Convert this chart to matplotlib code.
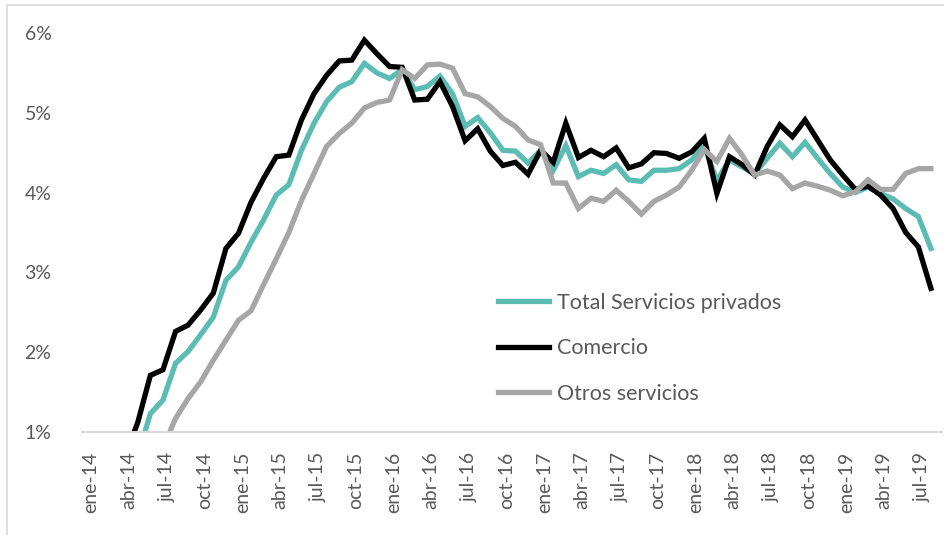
import matplotlib
matplotlib.use('Agg')
import matplotlib.pyplot as plt
from matplotlib.patches import Rectangle
import numpy as np

# monthly series, ene-14 .. jul-19 (values in %)
meses = ['ene', 'feb', 'mar', 'abr', 'may', 'jun', 'jul', 'ago', 'sep', 'oct', 'nov', 'dic']
anios = ['14', '15', '16', '17', '18', '19']

total = [0.30, 0.40, 0.50, 0.70, 1.23, 1.40, 1.86, 2.01, 2.22, 2.44, 2.90, 3.07,
         3.38, 3.66, 3.97, 4.10, 4.53, 4.87, 5.14, 5.32, 5.39, 5.62, 5.50, 5.43,
         5.54, 5.29, 5.33, 5.46, 5.24, 4.83, 4.94, 4.75, 4.53, 4.52, 4.37, 4.53,
         4.28, 4.59, 4.20, 4.28, 4.24, 4.35, 4.16, 4.14, 4.28, 4.28, 4.30, 4.41,
         4.58, 4.15, 4.41, 4.32, 4.24, 4.43, 4.62, 4.45, 4.63, 4.43, 4.24, 4.07,
         4.00, 4.07, 3.99, 3.92, 3.80, 3.70, 3.30]

comercio = [0.40, 0.55, 0.70, 1.12, 1.71, 1.78, 2.26, 2.34, 2.53, 2.74, 3.30, 3.49,
            3.88, 4.18, 4.45, 4.47, 4.91, 5.24, 5.47, 5.65, 5.66, 5.91, 5.74, 5.58,
            5.57, 5.16, 5.17, 5.39, 5.08, 4.65, 4.80, 4.52, 4.34, 4.38, 4.23, 4.53,
            4.38, 4.87, 4.44, 4.53, 4.45, 4.56, 4.31, 4.36, 4.50, 4.49, 4.43, 4.51,
            4.68, 3.99, 4.45, 4.35, 4.22, 4.58, 4.85, 4.70, 4.91, 4.66, 4.41, 4.22,
            4.04, 4.08, 3.97, 3.80, 3.50, 3.32, 2.80]

otros = [0.10, 0.20, 0.30, 0.45, 0.60, 0.80, 1.17, 1.42, 1.63, 1.90, 2.15, 2.40,
         2.52, 2.85, 3.17, 3.50, 3.90, 4.24, 4.58, 4.74, 4.87, 5.06, 5.13, 5.16,
         5.54, 5.43, 5.60, 5.61, 5.56, 5.24, 5.20, 5.08, 4.93, 4.83, 4.66, 4.60,
         4.12, 4.12, 3.80, 3.93, 3.89, 4.03, 3.89, 3.73, 3.89, 3.97, 4.07, 4.28,
         4.54, 4.39, 4.68, 4.47, 4.22, 4.27, 4.22, 4.05, 4.12, 4.08, 4.03, 3.96,
         4.01, 4.16, 4.04, 4.04, 4.24, 4.30, 4.30]

x = np.arange(len(total))
etiquetas = [m + '-' + a for a in anios for m in meses][:len(total)]

txt = '#595959'
plt.rcParams['font.family'] = ['Lato', 'DejaVu Sans']

fig = plt.figure(figsize=(9.45, 5.35), dpi=100)
ax = fig.add_axes([82/945, 1-432/535, 860/945, 399/535])

ax.plot(x, total, color='#5BBCB4', lw=3.8, label='Total Servicios privados', solid_joinstyle='miter')
ax.plot(x, comercio, color='#000000', lw=3.8, label='Comercio', solid_joinstyle='miter')
ax.plot(x, otros, color='#A6A6A6', lw=3.8, label='Otros servicios', solid_joinstyle='miter')

ax.set_ylim(1, 6)
ax.set_xlim(-1.43, 66.88)
ax.set_yticks([1, 2, 3, 4, 5, 6])
ax.set_yticklabels(['%d%%' % v for v in range(1, 7)], color=txt, fontsize=14)
ticks = x[::3]
ax.set_xticks(ticks - 0.7)
ax.set_xticklabels([etiquetas[i] for i in ticks], rotation=90, color=txt, fontsize=14)
ax.tick_params(axis='both', length=0)
ax.tick_params(axis='y', pad=22)
ax.tick_params(axis='x', pad=14)

for s in ['top', 'right', 'left']:
    ax.spines[s].set_visible(False)
ax.spines['bottom'].set_color('#D9D9D9')
ax.spines['bottom'].set_linewidth(1.5)

leg = ax.legend(loc='upper left', bbox_to_anchor=(487/945, 1-282/535),
                bbox_transform=fig.transFigure, frameon=False, fontsize=15.5,
                borderpad=0, handlelength=2.37, handletextpad=0.4, labelspacing=1.18)
for t in leg.get_texts():
    t.set_color(txt)

# chart area border
fig.patches.append(Rectangle((7/945, -0.05), 1.0, 1-5/535+0.05, transform=fig.transFigure,
                             fill=False, edgecolor='#D9D9D9', lw=1.2))

fig.savefig('out.png', dpi=100)
